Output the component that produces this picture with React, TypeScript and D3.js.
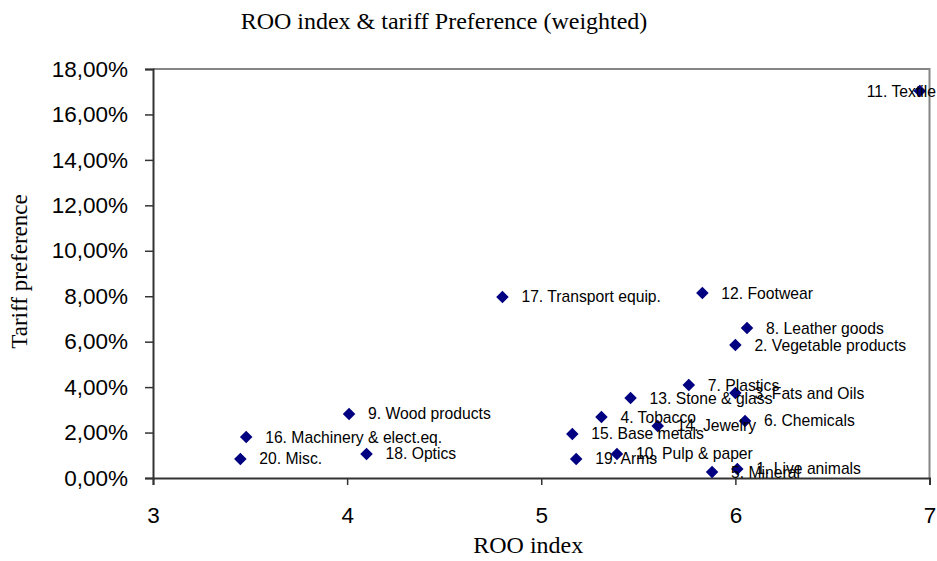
import React, { useEffect, useRef } from 'react';
import * as d3 from 'd3';

// HS sections: label, ROO index, tariff preference (share)
const labels = [
  '1. Live animals', '2. Vegetable products', '3. Fats and Oils', '4. Tobacco', '5. Mineral',
  '6. Chemicals', '7. Plastics', '8. Leather goods', '9. Wood products', '10. Pulp & paper',
  '11. Textile', '12. Footwear', '13. Stone & glass', '14. Jewelry', '15. Base metals',
  '16. Machinery & elect.eq.', '17. Transport equip.', '18. Optics', '19. Arms', '20. Misc.',
];
const rooIndex = [
  6.01, 6.0, 6.0, 5.31, 5.88,
  6.05, 5.76, 6.06, 4.01, 5.39,
  6.95, 5.83, 5.46, 5.6, 5.16,
  3.48, 4.8, 4.1, 5.18, 3.45,
];
const tariffPref = [
  0.004, 0.0585, 0.0374, 0.0268, 0.0026,
  0.0251, 0.0409, 0.066, 0.0282, 0.0106,
  0.1703, 0.0814, 0.0352, 0.0229, 0.0194,
  0.018, 0.0797, 0.0106, 0.0084, 0.0084,
];
const xTicks = [3, 4, 5, 6, 7];
const yTicks = [0, 0.02, 0.04, 0.06, 0.08, 0.1, 0.12, 0.14, 0.16, 0.18];

const App = () => {
  const svgRef = useRef<SVGSVGElement | null>(null);

  useEffect(() => {
    const width = 937;
    const height = 561;
    const marginTop = 69;
    const marginRight = 7.5;
    const marginBottom = 83;
    const marginLeft = 153;

    const x = d3.scaleLinear().domain([3, 7]).range([marginLeft, width - marginRight]);
    const y = d3.scaleLinear().domain([0, 0.18]).range([height - marginBottom, marginTop]);

    const svg = d3.select(svgRef.current);
    svg.selectAll('*').remove();

    const sans = 'Arial, Liberation Sans, sans-serif';
    const serif = 'Times New Roman, Liberation Serif, serif';

    // frame: top & right lighter
    svg.append('path')
      .attr('d', `M${marginLeft},${marginTop}H${width - marginRight}V${height - marginBottom}`)
      .attr('fill', 'none')
      .attr('stroke', '#858585')
      .attr('stroke-width', 2);

    const fmt = (v: number) => (v * 100).toFixed(2).replace('.', ',') + '%';

    svg.append('g')
      .attr('transform', `translate(0,${height - marginBottom})`)
      .call(d3.axisBottom(x).tickValues(xTicks).tickFormat(d3.format('d')).tickSizeOuter(0).tickSize(7).tickPadding(22))
      .call(g => g.select('.domain').attr('stroke', '#333').attr('stroke-width', 2))
      .call(g => g.selectAll('.tick line').attr('stroke', '#333').attr('stroke-width', 1.5))
      .call(g => g.selectAll('.tick text')
        .attr('font-family', sans)
        .attr('font-size', 22.5)
        .attr('fill', '#000'));

    svg.append('g')
      .attr('transform', `translate(${marginLeft},0)`)
      .call(d3.axisLeft(y).tickValues(yTicks).tickFormat(d => fmt(+d)).tickSizeOuter(0).tickSize(8).tickPadding(17))
      .call(g => g.select('.domain').attr('stroke', '#333').attr('stroke-width', 2))
      .call(g => g.selectAll('.tick line').attr('stroke', '#333').attr('stroke-width', 1.5))
      .call(g => g.selectAll('.tick text')
        .attr('font-family', sans)
        .attr('font-size', 22.5)
        .attr('fill', '#000'));

    const diamond = d3.symbol().type(d3.symbolDiamond2).size(100);

    svg.append('g')
      .selectAll('path')
      .data(labels)
      .join('path')
      .attr('d', diamond)
      .attr('transform', (d, i) => `translate(${x(rooIndex[i])},${y(tariffPref[i])})`)
      .attr('fill', '#000080');

    const txt = svg.append('g')
      .attr('font-family', sans)
      .attr('font-size', 15.7)
      .attr('fill', '#000');
    txt.selectAll('text')
      .data(labels)
      .join('text')
      .attr('x', (d, i) => x(rooIndex[i]) + 19)
      .attr('y', (d, i) => y(tariffPref[i]))
      .attr('dy', '0.35em')
      .text(d => d)
      .each(function () {
        // labels that would run off the right edge are pulled back inside
        const el = this as SVGTextElement;
        const w = el.getComputedTextLength();
        const x0 = +el.getAttribute('x')!;
        if (x0 + w > width) {
          el.setAttribute('x', String(width - 1));
          el.setAttribute('text-anchor', 'end');
        }
      });

    svg.append('text')
      .attr('x', 444)
      .attr('y', 29)
      .attr('text-anchor', 'middle')
      .attr('font-family', serif)
      .attr('font-size', 24)
      .text('ROO index & tariff Preference (weighted)');

    svg.append('text')
      .attr('x', (marginLeft + width - marginRight) / 2 - 13)
      .attr('y', 553)
      .attr('text-anchor', 'middle')
      .attr('font-family', serif)
      .attr('font-size', 24)
      .text('ROO index');

    svg.append('text')
      .attr('transform', `translate(27,${(marginTop + height - marginBottom) / 2 - 2}) rotate(-90)`)
      .attr('text-anchor', 'middle')
      .attr('font-family', serif)
      .attr('font-size', 23)
      .text('Tariff preference');
  }, []);

  return (
    <svg ref={svgRef} width={937} height={561}
      style={{ position: 'absolute', left: 0, top: 0, background: '#fff' }} />
  );
};

export default App;
